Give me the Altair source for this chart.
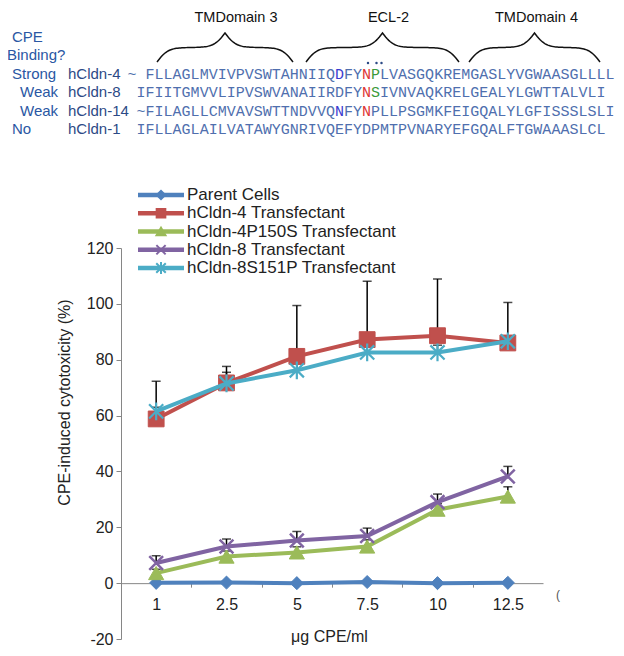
import altair as alt
import numpy as np
import pandas as pd

# ---------------- data ----------------
doses = ["1", "2.5", "5", "7.5", "10", "12.5"]
series = ["Parent Cells", "hCldn-4 Transfectant", "hCldn-4P150S Transfectant",
          "hCldn-8 Transfectant", "hCldn-8S151P Transfectant"]
parent = [0.1, 0.2, 0.0, 0.4, 0.0, 0.1]
cldn4 = [58.8, 71.7, 81.2, 87.2, 88.6, 86.0]
cldn4_p150s = [3.6, 9.5, 11.0, 13.1, 26.3, 31.0]
cldn8 = [7.2, 13.1, 15.3, 16.9, 29.0, 38.2]
cldn8_s151p = [61.5, 71.5, 76.2, 82.6, 82.6, 86.6]
parent_err = [None] * 6
cldn4_err = [72.3, 77.6, 99.4, 108.1, 108.9, 100.5]
cldn4_p150s_err = [5.0, 11.5, 13.0, 15.5, 28.5, 34.5]
cldn8_err = [9.8, 15.8, 18.5, 19.7, 31.9, 41.8]
cldn8_s151p_err = [63.0, 75.5, 78.5, 85.2, 85.2, 88.5]
y_ticks = [-20, 0, 20, 40, 60, 80, 100, 120]

clone_labels = ["hCldn-4", "hCldn-8", "hCldn-14", "hCldn-1"]
binding_labels = ["Strong", "Weak", "Weak", "No"]
sequences = [
    "~ FLLAGLMVIVPVSWTAHNIIQDFYNPLVASGQKREMGASLYVGWAASGLLLL",
    "IFIITGMVVLIPVSWVANAIIRDFYNSIVNVAQKRELGEALYLGWTTALVLI",
    "~FILAGLLCMVAVSWTTNDVVQNFYNPLLPSGMKFEIGQALYLGFISSSLSLI",
    "IFLLAGLAILVATAWYGNRIVQEFYDPMTPVNARYEFGQALFTGWAAASLCL",
]
domain_titles = ["TMDomain 3", "ECL-2", "TMDomain 4"]

# ---------------- styles / layout ----------------
colors = ["#4F81BD", "#C0504D", "#9BBB59", "#8064A2", "#4BACC6"]
X_PATH = "M-1,-1L1,1M1,-1L-1,1"
STAR_PATH = "M-1,-1L1,1M1,-1L-1,1M0,-1.25L0,1.25"
shapes = ["diamond", "square", "triangle-up", X_PATH, STAR_PATH]
marker_size = [170, 250, 230, 190, 200]
marker_sw = [1, 1, 1, 2.5, 2.2]
legend_size = [70, 90, 90, 70, 75]

W, H = 422, 391
step = W / len(doses)
FONT = "Liberation Sans"
MONO = "Liberation Mono"
SEQ_COLOR = "#4f6fae"
LABEL_COLOR = "#2a57a3"
CLONE_COLOR = "#2c4a86"
highlights = {0: {22: "#3a3ad0", 25: "#e03535", 26: "#3a9a3a"},
              1: {25: "#e03535", 26: "#3a9a3a"},
              2: {22: "#3a3ad0", 25: "#e03535"}}
seq_start = [-1, 0, 0, 0]

# ---------------- main chart ----------------
vals = [parent, cldn4, cldn4_p150s, cldn8, cldn8_s151p]
errs = [parent_err, cldn4_err, cldn4_p150s_err, cldn8_err, cldn8_s151p_err]
recs = []
for s, v, e in zip(series, vals, errs):
    for d, vv, ee in zip(doses, v, e):
        recs.append({"dose": d, "series": s, "value": vv,
                     "upper": (np.nan if ee is None else ee)})
df = pd.DataFrame(recs)

xscale = alt.Scale(type="point", domain=doses, padding=0.5)
xaxis = alt.Axis(title="μg CPE/ml", offset=-H * 20 / 140, tickOffset=-step / 2,
                 labelOffset=step / 2, labelAngle=0, domainColor="#868686",
                 tickColor="#868686", tickSize=4, labelFontSize=16, labelPadding=9,
                 labelColor="#222", titleFontSize=16, titleFontWeight="normal",
                 titleColor="#222", titleX=208, titleY=53, titleBaseline="middle",
                 titleAlign="center", grid=False)
yscale = alt.Scale(domain=[-20, 120], nice=False, zero=False)
yaxis = alt.Axis(values=y_ticks, grid=False, domainColor="#868686", tickColor="#868686",
                 tickSize=5, labelPadding=3, labelFontSize=16, labelColor="#222",
                 labelExpr="'' + datum.value",
                 title="CPE-induced cytotoxicity (%)", titleFontSize=16,
                 titleFontWeight="normal", titleColor="#222", titleX=-57, titleY=154,
                 titleBaseline="middle", titleAlign="center")


def X():
    return alt.X("dose:N", sort=doses, scale=xscale, axis=xaxis)


def Y(f):
    return alt.Y(f, scale=yscale, axis=yaxis)


base = alt.Chart(df)
err = base.transform_filter("isValid(datum.upper)")
main_layers = [
    err.mark_rule(color="black", strokeWidth=1.5).encode(x=X(), y=Y("value:Q"), y2="upper:Q"),
    err.mark_tick(color="black", size=9, thickness=1.5, orient="horizontal").encode(x=X(), y=Y("upper:Q")),
]
for i, s in enumerate(series):
    sb = base.transform_filter(alt.datum.series == s)
    main_layers.append(sb.mark_line(color=colors[i], strokeWidth=4).encode(x=X(), y=Y("value:Q")))
    main_layers.append(sb.mark_point(shape=shapes[i], size=marker_size[i], filled=True,
                                     fill=colors[i], stroke=colors[i], strokeWidth=marker_sw[i],
                                     opacity=1).encode(x=X(), y=Y("value:Q")))
paren = alt.Chart(pd.DataFrame({"t": ["("]})).mark_text(
    fontSize=12, color="#555", font=FONT).encode(x=alt.value(437), y=alt.value(347), text="t:N")
main_layers.append(paren)
main = alt.layer(*main_layers)

# ---------------- legend ----------------
leg_df = pd.DataFrame({"series": series})
ly = alt.Y("series:N", sort=series,
           scale=alt.Scale(type="point", domain=series, range=[-53, 20], padding=0), axis=None)
lcolor = alt.Color("series:N", scale=alt.Scale(domain=series, range=colors), legend=None)
lstroke = alt.Stroke("series:N", scale=alt.Scale(domain=series, range=colors), legend=None)
lshape = alt.Shape("series:N", scale=alt.Scale(domain=series, range=shapes), legend=None)
lsize = alt.Size("series:N", scale=alt.Scale(domain=series, range=legend_size), legend=None)
lb = alt.Chart(leg_df)
legend = alt.layer(
    lb.mark_rule(strokeWidth=4.5).encode(x=alt.value(17), x2=alt.value(63), y=ly, color=lcolor),
    lb.mark_point(filled=True, opacity=1, strokeWidth=2).encode(
        x=alt.value(40), y=ly, color=lcolor, stroke=lstroke, shape=lshape, size=lsize),
    lb.mark_text(align="left", baseline="middle", fontSize=17, font=FONT, color="#222").encode(
        x=alt.value(66), y=ly, text="series:N"),
)

# ---------------- sequence alignment ----------------
chars = []
for r, sq in enumerate(sequences):
    for k, ch in enumerate(sq):
        if ch == " ":
            continue
        p = seq_start[r] + k
        chars.append({"row": r, "pos": p, "ch": ch,
                      "color": highlights.get(r, {}).get(p, SEQ_COLOR)})
chars_df = pd.DataFrame(chars)
sx = alt.X("pos:Q", scale=alt.Scale(domain=[0, 52], range=[20, 489], nice=False, zero=False), axis=None)
sy = alt.Y("row:Q", scale=alt.Scale(domain=[0, 3], range=[-174, -119], nice=False, zero=False), axis=None)
rows_df = pd.DataFrame({"row": list(range(4)), "clone": clone_labels, "bind": binding_labels})
bind_x = [-109, -101, -101, -109]
seq_layers = [
    alt.Chart(chars_df).mark_text(font=MONO, fontSize=15, baseline="middle", align="center").encode(
        x=sx, y=sy, text="ch:N", color=alt.Color("color:N", scale=None)),
    alt.Chart(rows_df).mark_text(font=FONT, fontSize=15, baseline="middle", align="left",
                                 color=CLONE_COLOR).encode(x=alt.value(-53), y=sy, text="clone:N"),
]
for r in range(4):
    seq_layers.append(
        alt.Chart(rows_df).transform_filter(alt.datum.row == r).mark_text(
            font=FONT, fontSize=15, baseline="middle", align="left", color=LABEL_COLOR).encode(
            x=alt.value(bind_x[r]), y=sy, text="bind:N"))
hdr = pd.DataFrame({"t": ["CPE", "Binding?"]})
seq_layers.append(alt.Chart(hdr).transform_filter(alt.datum.t == "CPE").mark_text(
    font=FONT, fontSize=15, baseline="middle", align="left", color=LABEL_COLOR).encode(
    x=alt.value(-109), y=alt.value(-211), text="t:N"))
seq_layers.append(alt.Chart(hdr).transform_filter(alt.datum.t == "Binding?").mark_text(
    font=FONT, fontSize=15, baseline="middle", align="left", color=LABEL_COLOR).encode(
    x=alt.value(-114), y=alt.value(-193), text="t:N"))
seqg = alt.layer(*seq_layers)

# ---------------- braces & domain titles ----------------
brace_spans = [(36, 172), (185, 338), (348, 479)]
BR_TOP, BR_BOT = -215, -186


def brace(x0, x1, ytop, ybot, b=0.18, n=50):
    w = (x1 - x0) / 2
    u = np.linspace(0, w, n)
    sig = lambda z: 1 / (1 + np.exp(-b * z))
    yn = sig(u) + sig(u - w)
    xs = np.concatenate([x0 + u, (x1 - u)[::-1][1:]])
    ys = np.concatenate([yn, yn[::-1][1:]])
    return xs, ybot - (ys - 0.5) * (ybot - ytop)


br = []
for bi, (a, bnd) in enumerate(brace_spans):
    xs, ys = brace(a, bnd, BR_TOP, BR_BOT)
    for k, (xx, yy) in enumerate(zip(xs, ys)):
        br.append({"brace": bi, "k": k, "bx": float(xx), "by": float(yy)})
br_df = pd.DataFrame(br)
bxs = alt.Scale(domain=[-121, 503], range=[-121, 503], nice=False, zero=False)
bys = alt.Scale(domain=[-248, 0], range=[-248, 0], nice=False, zero=False)
titles_df = pd.DataFrame({"t": domain_titles,
                          "bx": [(a + b2) / 2 + d for (a, b2), d in zip(brace_spans, [11, 6, 2])],
                          "by": [-226.5] * 3})
dots_df = pd.DataFrame({"bx": [247, 255.5, 260.5], "by": [-185, -185, -185]})
braceg = alt.layer(
    alt.Chart(br_df).mark_line(color="#111", strokeWidth=1.5).encode(
        x=alt.X("bx:Q", scale=bxs, axis=None), y=alt.Y("by:Q", scale=bys, axis=None),
        detail="brace:N", order="k:Q"),
    alt.Chart(titles_df).mark_text(font=FONT, fontSize=14.5, color="#111", baseline="alphabetic").encode(
        x=alt.X("bx:Q", scale=bxs, axis=None), y=alt.Y("by:Q", scale=bys, axis=None), text="t:N"),
    alt.Chart(dots_df).mark_point(filled=True, size=6, color="#2c4a86", opacity=1, shape="circle").encode(
        x=alt.X("bx:Q", scale=bxs, axis=None), y=alt.Y("by:Q", scale=bys, axis=None)),
)

chart = alt.layer(main, seqg, braceg, legend).resolve_scale(
    x="independent", y="independent", color="independent",
    shape="independent", stroke="independent", size="independent"
).properties(
    width=W, height=H,
    autosize=alt.AutoSizeParams(type="none"),
    padding={"left": 113, "top": 240, "right": 73, "bottom": 17},
).configure_view(stroke=None).configure_axis(labelFont=FONT, titleFont=FONT)

chart.save("out.html", embed_options={"renderer": "svg", "actions": False})
